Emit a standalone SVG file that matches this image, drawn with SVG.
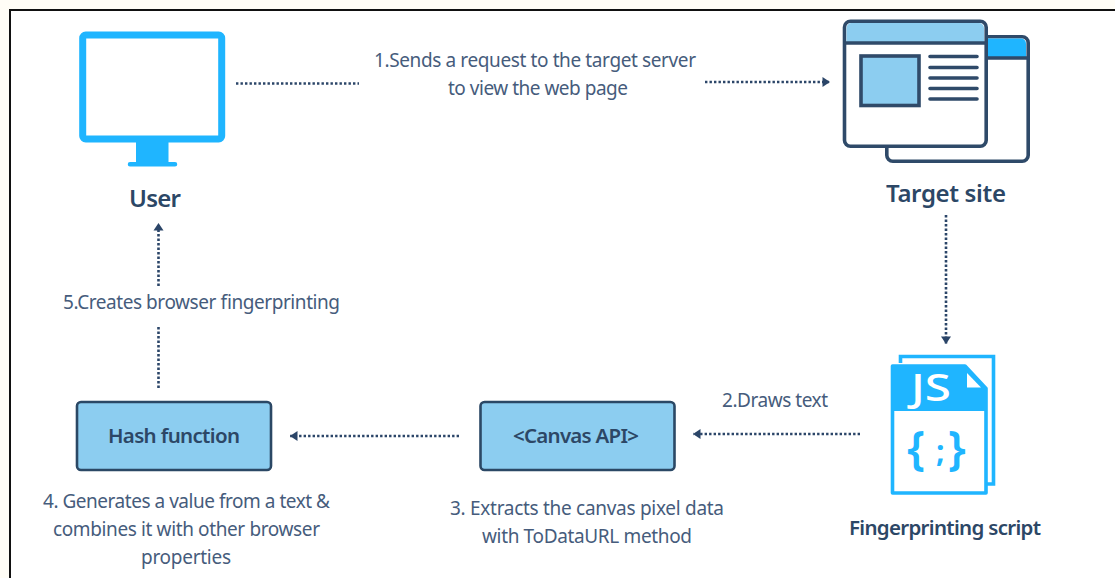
<svg xmlns="http://www.w3.org/2000/svg" width="1115" height="578" viewBox="0 0 1115 578">
<style>
text{font-family:"Noto Sans","Open Sans",sans-serif;text-anchor:start}
.l{font-size:19px;fill:#465c7c}
.b{font-size:20.5px;font-weight:600;fill:#2c4766}
.h{font-size:24px;font-weight:600;fill:#2c4766}
.box{fill:#8ccdf0;stroke:#2b4865;stroke-width:2.6}
.dark{fill:none;stroke:#2f4a69;stroke-width:3.6}
.row{stroke:#2f4a69;stroke-width:3.6;stroke-linecap:round}
.c{fill:none;stroke:#2b4568;stroke-width:2.6;stroke-dasharray:2.4 2.1}
.blue{fill:#1fb5ff}
.js{font-size:46px;font-weight:600;fill:#1fb5ff}
</style>
<defs>
<marker id="a" markerUnits="userSpaceOnUse" markerWidth="10" markerHeight="11" refX="8.500" refY="5.500" orient="auto"><path d="M1 0.500L8.500 5.500L1 10.500Z" fill="#2b4568"/></marker>
</defs>
<rect width="1115" height="578" fill="#fffdf6"/>
<rect x="10" y="10" width="1110" height="575" fill="#fff" stroke="#111" stroke-width="2"/>
<g id="connectors">
<path class="c" d="M236 83.500H359"/>
<path class="c" d="M705 82H830" marker-end="url(#a)"/>
<path class="c" d="M946 215V344" marker-end="url(#a)"/>
<path class="c" d="M860 434H693" marker-end="url(#a)"/>
<path class="c" d="M459 436H290" marker-end="url(#a)"/>
<path class="c" d="M158.500 388V327"/>
<path class="c" d="M158.500 286V223" marker-end="url(#a)"/>
</g>
<g id="user">
<rect x="82.700" y="35" width="139" height="104" rx="3" fill="#fff" stroke="#1fb5ff" stroke-width="7"/>
<path class="blue" d="M136 142H168.500V162H175a2 2 0 0 1 0 4.500H130a2 2 0 0 1 0-4.500H136Z"/>
<text class="h" x="129" y="207" textLength="52">User</text>
</g>
<g id="target-site">
<rect x="886.800" y="36.800" width="141.400" height="124.500" rx="6" class="dark" style="fill:#fff"/>
<path d="M985 38.600H1021a5 5 0 0 1 5 5V57H985Z" class="blue"/>
<path class="dark" d="M985 58H1028"/>
<rect x="844.500" y="21.300" width="141.700" height="125" rx="6" style="fill:#fff" class="dark"/>
<path d="M846.500 42V28a5 5 0 0 1 5-5H979a5 5 0 0 1 5 5V42Z" fill="#8ccdf0"/>
<path class="dark" d="M844.500 43H986"/>
<rect x="861" y="56" width="58" height="49.500" fill="#8ccdf0" stroke="#2f4a69" stroke-width="3.600"/>
<path class="row" d="M930 56.500H977M930 67.500H977M930 78H977M930 88.500H977M930 99H977"/>
<text class="h" x="886" y="202" textLength="120">Target site</text>
</g>
<g id="fingerprinting-script">
<path d="M900.500 363V356.500H993.500V484H986" fill="none" stroke="#1fb5ff" stroke-width="3.600"/>
<path d="M892.500 366H965L986 388.500V493H892.500Z" fill="#fff" stroke="#1fb5ff" stroke-width="3.600" stroke-linejoin="round"/>
<path d="M892.500 366H965L986 388.500V411H892.500Z" class="blue"/>
<path d="M967 373L981 387.500H967Z" fill="#fff"/>
<text x="911" y="401" font-size="38" font-weight="500" fill="#fff" textLength="40" lengthAdjust="spacingAndGlyphs">JS</text>
<text class="js" x="907" y="465">{</text>
<text x="936" y="462" font-size="30" font-weight="700" fill="#1fb5ff">;</text>
<text class="js" x="948" y="465">}</text>
<text class="b" x="849" y="535" textLength="192">Fingerprinting script</text>
</g>
<g id="hash-function">
<rect class="box" x="77" y="402" width="194" height="68" rx="4"/>
<text class="b" x="108" y="443" textLength="132">Hash function</text>
</g>
<g id="canvas-api">
<rect class="box" x="480.500" y="402" width="194" height="68" rx="4"/>
<text class="b" x="513" y="443" textLength="126">&lt;Canvas API&gt;</text>
</g>
<g id="labels">
<text class="l" x="374" y="67" textLength="322">1.Sends a request to the target server</text>
<text class="l" x="448" y="95" textLength="180">to view the web page</text>
<text class="l" x="722" y="407" textLength="106">2.Draws text</text>
<text class="l" x="450" y="515" textLength="274">3. Extracts the canvas pixel data</text>
<text class="l" x="482" y="543" textLength="210">with ToDataURL method</text>
<text class="l" x="43" y="508" textLength="287">4. Generates a value from a text &amp;</text>
<text class="l" x="53" y="536" textLength="267">combines it with other browser</text>
<text class="l" x="141" y="564" textLength="90">properties</text>
<text class="l" x="63" y="309" textLength="277">5.Creates browser fingerprinting</text>
</g>
</svg>
